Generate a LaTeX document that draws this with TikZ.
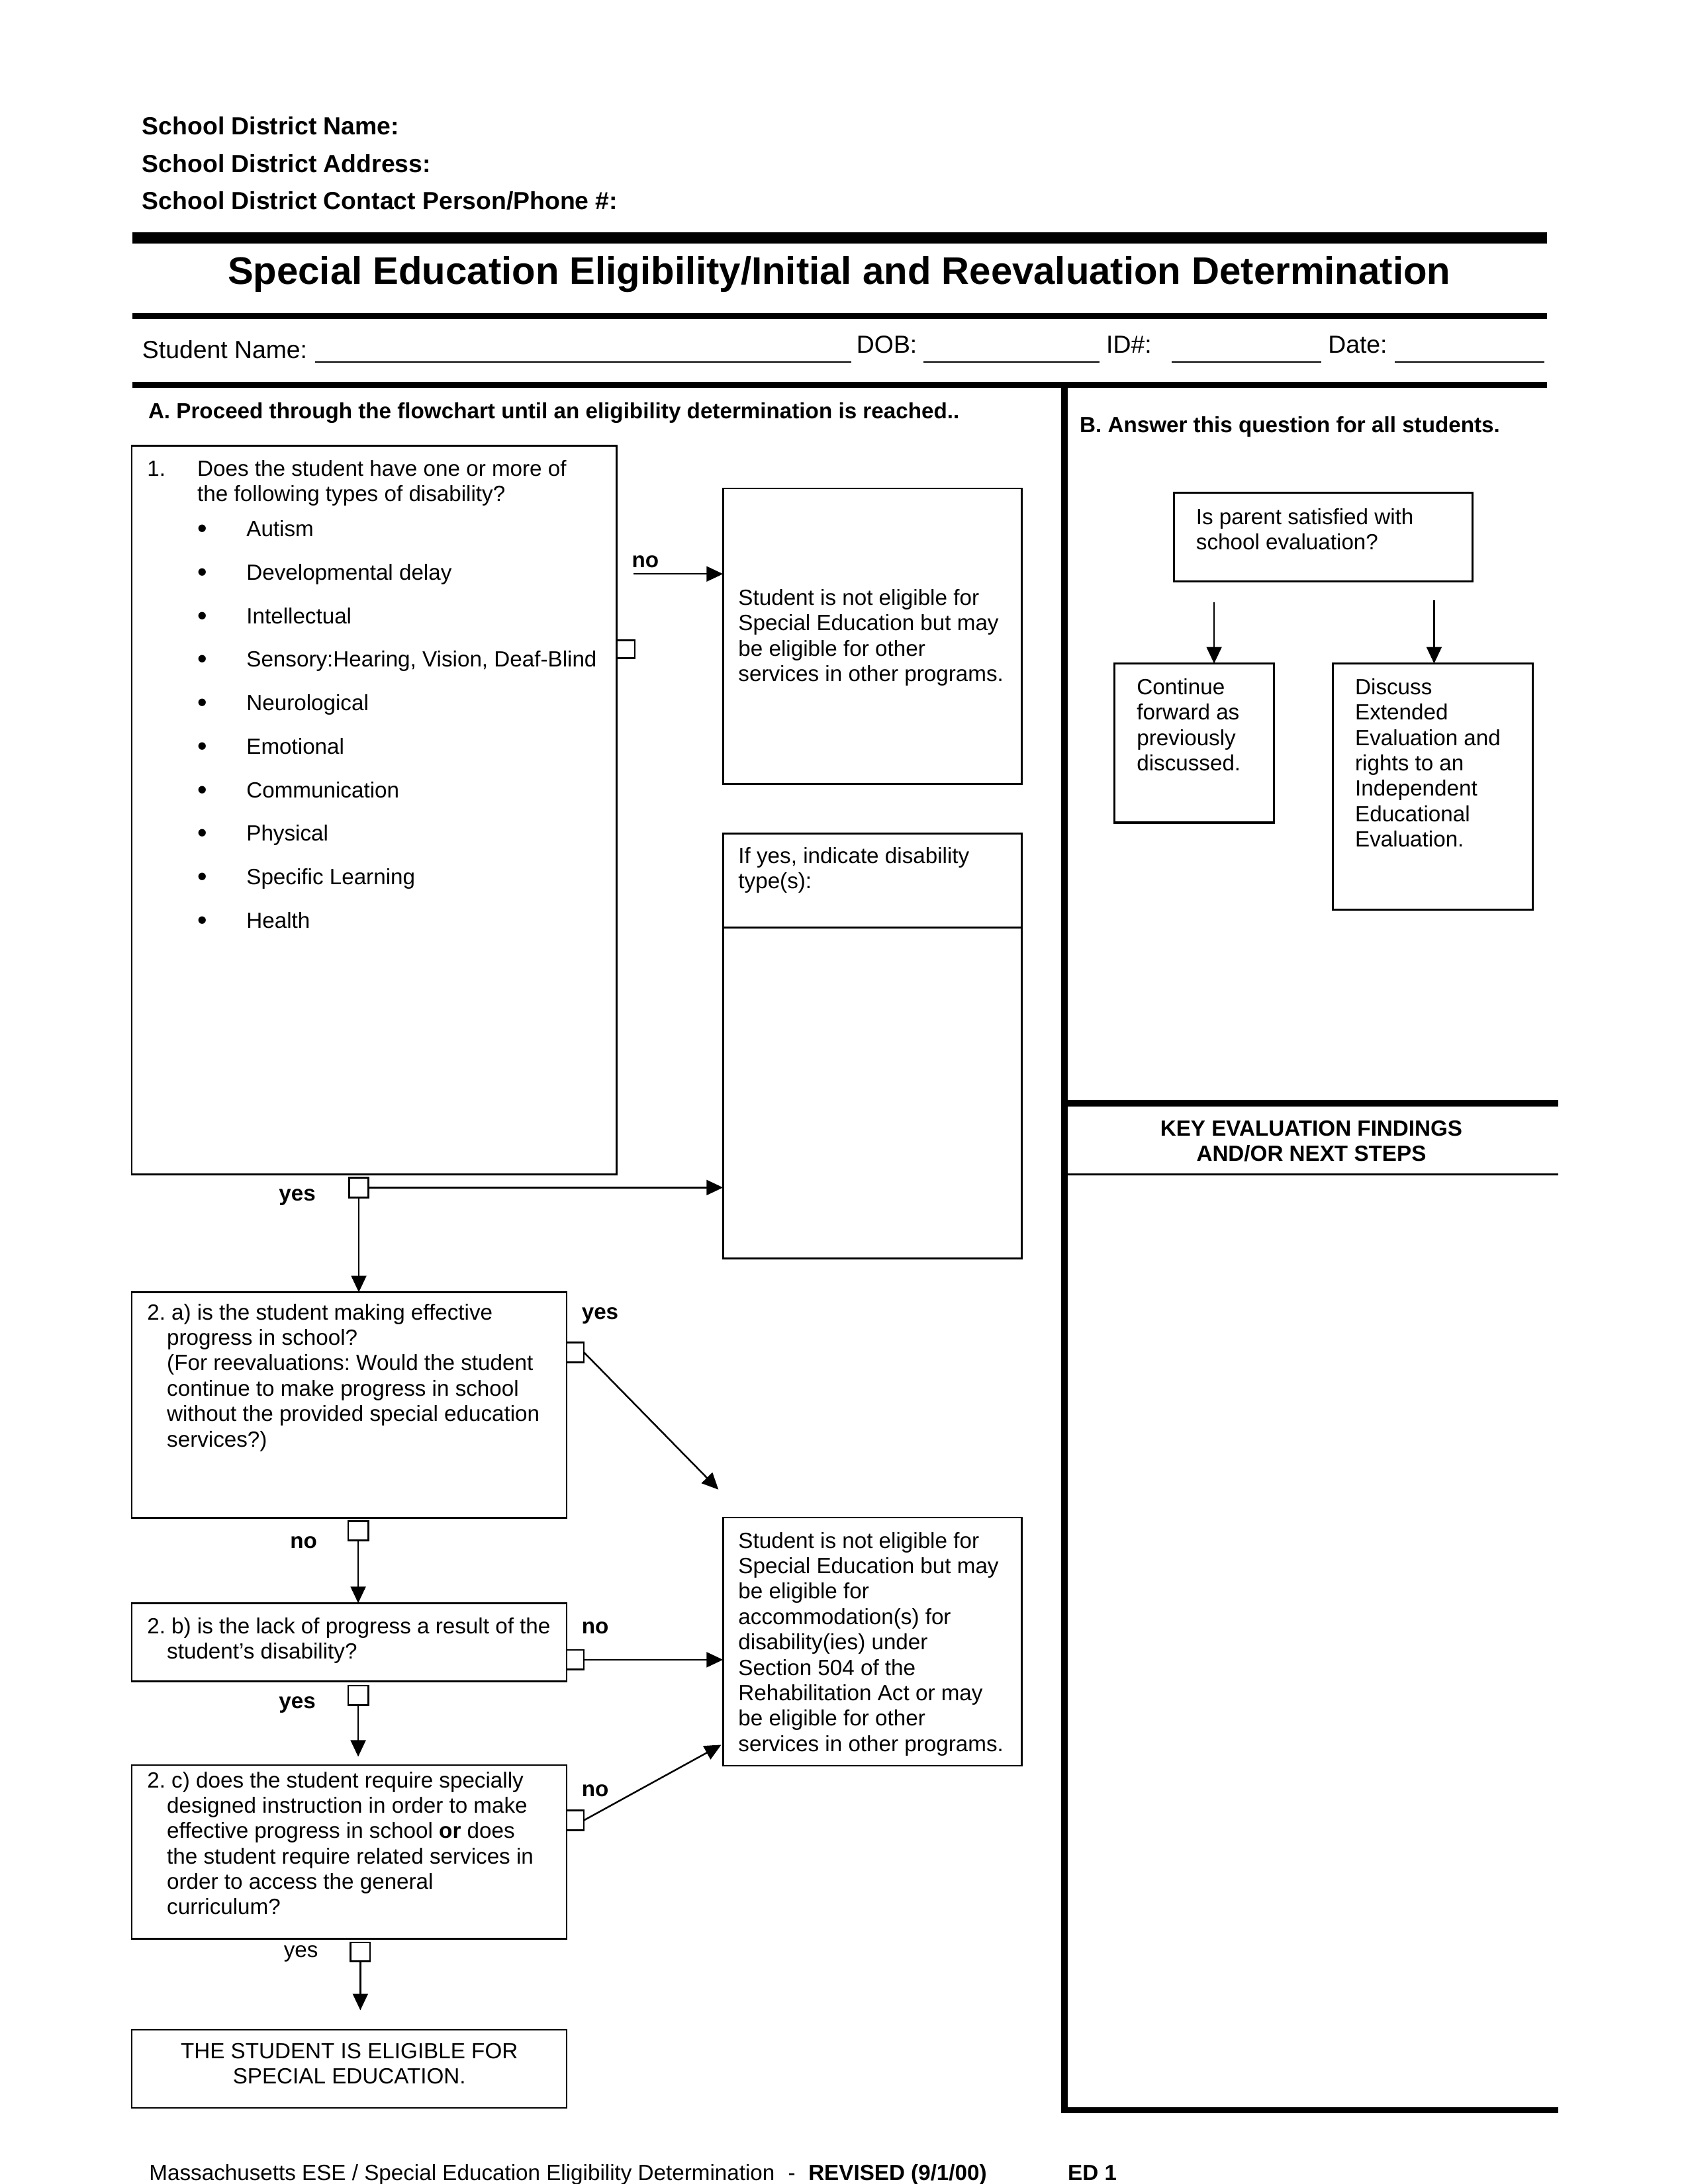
\documentclass[tikz,border=0pt]{standalone}
\usepackage{fontspec}
\setmainfont{Liberation Sans}
\usetikzlibrary{arrows.meta,calc}
% box helper: [opts]{name}{x1}{y1}{x2}{y2}
\newcommand\mkbox[6][]{%
  \node[boxst,#1,minimum width={(#5-#3)*0.50768pt},minimum height={(#6-#4)*0.50768pt}] (#2) at ({(#3+#5)/2},{(#4+#6)/2}) {};}
\tikzset{
  boxst/.style={draw, line width=0.6pt, inner sep=0pt, outer sep=0pt, rectangle},
  bboxst/.style={line width=0.75pt},
  txt/.style={inner sep=0pt, outer sep=0pt, anchor=base west, font=\fontsize{8}{9.24}\selectfont},
  lbl/.style={txt, font=\fontsize{8}{9.24}\selectfont\bfseries},
  hdr/.style={txt, font=\fontsize{9}{11}\selectfont\bfseries},
  rowtxt/.style={txt, font=\fontsize{9}{11}\selectfont},
  arr/.style={line width=0.6pt, -{Triangle[length=6pt,width=5.5pt]}},
  thickrule/.style={line width=4.1pt},
  medrule/.style={line width=2.3pt},
  thinrule/.style={line width=0.5pt}
}
\frenchspacing
\begin{document}
\frenchspacing
\begin{tikzpicture}[x=0.50768pt,y=-0.50768pt]
\useasboundingbox (0,0) rectangle (1210,1565.9);

% ---------- header ----------
\node[hdr] (h1) at (102,96.5) {School District Name:};
\node[hdr] (h2) at (102,123.5) {School District Address:};
\node[hdr] (h3) at (102,150.4) {School District Contact Person/Phone \#:};
\draw[thickrule] (95,170.5) -- (1109,170.5);
\node[inner sep=0pt, anchor=base, font=\fontsize{14}{17}\selectfont\bfseries] (title) at (601.5,204) {Special Education Eligibility/Initial and Reevaluation Determination};
\draw[medrule] (95,226.5) -- (1109,226.5);
\node[rowtxt] (sname) at (102,257) {Student Name:};
\draw[thinrule] (226,259.5) -- (610,259.5);
\node[rowtxt] (dob) at (614,253) {DOB:};
\draw[thinrule] (662,259.5) -- (788,259.5);
\node[rowtxt] (idn) at (793,253) {ID\#:};
\draw[thinrule] (840,259.5) -- (947,259.5);
\node[rowtxt] (date) at (952,253) {Date:};
\draw[thinrule] (1000,259.5) -- (1107,259.5);
\draw[medrule] (95,276) -- (1109,276);

% ---------- right frame ----------
\draw[line width=2.2pt, line join=miter] (763,275) -- (763,1513) -- (1117,1513);
\draw[medrule] (763,791) -- (1117,791);
\draw[thinrule] (764,842) -- (1117,842);
\node[inner sep=0pt, anchor=base, font=\fontsize{8}{9.1}\selectfont\bfseries] (key) at (940,814.6)
  {\parbox[t]{150pt}{\centering KEY EVALUATION FINDINGS\\AND/OR NEXT STEPS}};

% ---------- section titles ----------
\node[lbl] (atitle) at (106.3,300) {A. Proceed through the flowchart until an eligibility determination is reached..};
\node[lbl] (btitle) at (774,310) {B. Answer this question for all students.};

% ---------- box 1 ----------
\mkbox{b1}{94.5}{319.5}{442}{842}
\node[txt] (q1num) at (105.5,341.3) {1.};
\node[txt] (q1) at (141.5,341.3) {\parbox[t]{200pt}{\raggedright Does the student have one or more of\\the following types of disability?}};
\foreach \i/\t in {0/Autism,1/Developmental delay,2/Intellectual,3/{Sensory:Hearing, Vision, Deaf-Blind},4/Neurological,5/Emotional,6/Communication,7/Physical,8/Specific Learning,9/Health}{
  \node[txt,anchor=base,font=\fontsize{10}{12}\selectfont] (bul\i) at (145,{384.6+31.2*\i}) {\raisebox{-0.5pt}{\textbullet}};
  \node[txt] (item\i) at (176.7,{384.6+31.2*\i}) {\t};
}
\mkbox{sq1n}{442}{459}{455}{472}
\node[lbl] (lno1) at (453,407) {no};
\coordinate (no1s) at (454,411.5);

% ---------- box 2 ----------
\mkbox{b2}{518.3}{350.2}{732.5}{562}
\node[txt] (t2) at (529.3,434) {\parbox[t]{200pt}{\raggedright Student is not eligible for\\Special Education but may\\be eligible for other\\services in other programs.}};
\draw[arr] (no1s) -- (no1s -| b2.west);

% ---------- box 3 ----------
\mkbox{b3}{518.3}{597.6}{732.5}{902.2}
\draw[line width=0.6pt] (b3.west |- 0,665) -- (b3.east |- 0,665);
\node[txt] (t3) at (529.3,618.8) {\parbox[t]{200pt}{\raggedright If yes, indicate disability\\type(s):}};

\mkbox{sq1y}{250.4}{844.3}{264}{858.6}
\node[lbl] (lyes1) at (200,861) {yes};
\draw[arr] (sq1y.east) -- (sq1y.east -| b3.west);

% ---------- box 2a ----------
\mkbox{b2a}{94.5}{926.5}{406.3}{1088.2}
\draw[arr] (sq1y.south) -- (sq1y.south |- b2a.north);
\node[txt] (t2a) at (105.5,946.3) {\parbox[t]{220pt}{\hangindent=7.2pt\hangafter=1 2. a) is the student making effective\\progress in school?\\(For reevaluations: Would the student\\continue to make progress in school\\without the provided special education\\services?)}};
\mkbox{sq2ay}{406.3}{962.5}{418.6}{976.7}
\node[lbl] (lyes2a) at (417,946) {yes};
\coordinate (tip2a) at (515,1068);
\draw[arr] (sq2ay.east) -- (tip2a);

% ---------- box 4 ----------
\mkbox{b4}{518.3}{1088}{732.5}{1266}
\node[txt] (t4) at (529.3,1110) {\parbox[t]{200pt}{\raggedright Student is not eligible for\\Special Education but may\\be eligible for\\accommodation(s) for\\disability(ies) under\\Section 504 of the\\Rehabilitation Act or may\\be eligible for other\\services in other programs.}};

% ---------- box 2b ----------
\mkbox{sq2an}{249.5}{1090.6}{264}{1104.5}
\node[lbl] (lno2a) at (208,1110) {no};
\mkbox{b2b}{94.5}{1149.4}{406.3}{1205.6}
\draw[arr] (sq2an.south) -- (sq2an.south |- b2b.north);
\node[txt] (t2b) at (105.5,1171.3) {\parbox[t]{220pt}{\hangindent=7.2pt\hangafter=1 2. b) is the lack of progress a result of the\\student’s disability?}};
\mkbox{sq2bn}{406.3}{1183}{418.6}{1197}
\node[lbl] (lno2b) at (417,1171.5) {no};
\draw[arr] (sq2bn.east) -- (sq2bn.east -| b4.west);

% ---------- box 2c ----------
\mkbox{sq2by}{249.5}{1208.6}{264}{1222.6}
\node[lbl] (lyes2b) at (200,1225) {yes};
\mkbox{b2c}{94.5}{1265.5}{406.3}{1390}
\draw[arr] (sq2by.south) -- ($(sq2by.south |- b2c.north)+(0,-6)$);
\node[txt] (t2c) at (105.5,1281.7) {\parbox[t]{220pt}{\hangindent=7.2pt\hangafter=1 2. c) does the student require specially\\designed instruction in order to make\\effective progress in school \textbf{or} does\\the student require related services in\\order to access the general\\curriculum?}};
\mkbox{sq2cn}{406.3}{1298}{418.6}{1312.2}
\node[lbl] (lno2c) at (417,1288) {no};
\coordinate (tip2c) at (517,1251);
\draw[arr] (sq2cn.east) -- (tip2c);

% ---------- final box ----------
\mkbox{sq2cy}{251.3}{1392.7}{265.3}{1406.3}
\node[txt] (lyes2c) at (203.5,1403.5) {yes};
\mkbox{bfin}{94.5}{1455.3}{406.3}{1511.4}
\draw[arr] (sq2cy.south) -- ($(sq2cy.south |- bfin.north)+(0,-14)$);
\node[txt,anchor=base] (tfin) at (250.4,1475.8) {\parbox[t]{180pt}{\centering THE STUDENT IS ELIGIBLE FOR\\SPECIAL EDUCATION.}};

% ---------- section B ----------
\mkbox[bboxst]{bq}{841.5}{353.3}{1055.7}{416.9}
\node[txt] (tbq) at (857.4,376) {\parbox[t]{200pt}{\raggedright Is parent satisfied with\\school evaluation?}};
\mkbox[bboxst]{bcont}{799}{475.7}{913.3}{589.8}
\node[txt] (tcont) at (814.9,498) {\parbox[t]{100pt}{\raggedright Continue\\forward as\\previously\\discussed.}};
\mkbox[bboxst]{bdisc}{955.4}{475.7}{1098.7}{652.2}
\node[txt] (tdisc) at (971.4,498) {\parbox[t]{120pt}{\raggedright Discuss\\Extended\\Evaluation and\\rights to an\\Independent\\Educational\\Evaluation.}};
\coordinate (ba1) at (870.3,432);
\coordinate (ba2) at (1028,430.3);
\draw[arr] (ba1) -- (ba1 |- bcont.north);
\draw[arr] (ba2) -- (ba2 |- bdisc.north);

% ---------- footer ----------
\node[txt] (f1) at (107,1563.5) {Massachusetts ESE / Special Education Eligibility Determination};
\node[txt] (f2) at (565,1563.5) {-};
\node[lbl] (f3) at (579.5,1563.5) {REVISED (9/1/00)};
\node[lbl] (f4) at (765.5,1563.5) {ED 1};
\end{tikzpicture}
\end{document}
